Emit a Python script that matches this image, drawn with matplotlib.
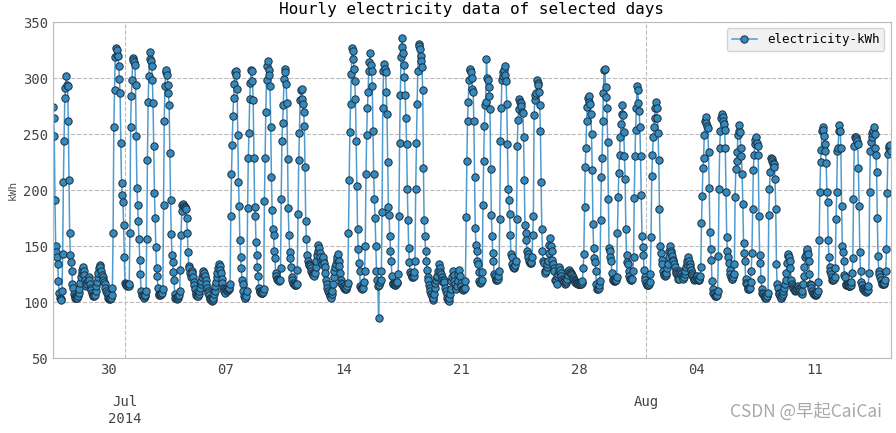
import numpy as np
import pandas as pd
import matplotlib
matplotlib.use("Agg")
import matplotlib.pyplot as plt

# hourly kWh, one line per day
jun26_29 = [
    274, 264, 248, 191, 150, 145, 140,  # Jun 26 (from 17:00)
    134, 119, 108, 104, 103, 102, 110, 143, 207, 244, 282, 291, 302, 294, 293, 262, 209, 162, 142, 136, 128, 116, 113, 107,
    105, 104, 104, 105, 104, 105, 108, 112, 117, 122, 126, 129, 131, 128, 124, 120, 117, 114, 116, 119, 122, 120, 116, 113,
    111, 108, 106, 105, 105, 106, 110, 114, 118, 122, 126, 130, 133, 131, 128, 124, 122, 120, 118, 116, 113, 110, 108, 106,
]
jun30_jul06 = [
    104, 103, 103, 104, 104, 106, 113, 162, 256, 289, 319, 327, 321, 325, 320, 311, 299, 287, 242, 206, 196, 189, 169, 140,
    117, 116, 115, 114, 115, 114, 116, 162, 256, 284, 298, 318, 316, 314, 312, 294, 248, 202, 187, 172, 156, 138, 125, 110,
    106, 105, 105, 104, 105, 106, 110, 156, 227, 279, 302, 317, 323, 315, 311, 298, 278, 239, 197, 175, 149, 130, 123, 113,
    107, 106, 106, 107, 107, 108, 112, 187, 262, 293, 305, 307, 303, 294, 287, 276, 233, 191, 161, 142, 136, 127, 120, 107,
    104, 104, 103, 104, 105, 106, 110, 129, 160, 181, 187, 188, 186, 185, 184, 183, 175, 162, 145, 132, 130, 126, 122, 128,
    126, 122, 118, 115, 112, 108, 106, 105, 105, 107, 110, 113, 116, 119, 122, 125, 128, 126, 123, 120, 116, 113, 110, 108,
    106, 104, 103, 102, 101, 102, 104, 107, 110, 114, 118, 122, 126, 130, 134, 132, 129, 126, 121, 117, 113, 112, 110, 108,
]
jul07_13 = [
    112, 111, 110, 111, 112, 113, 116, 177, 214, 240, 266, 282, 295, 305, 306, 303, 290, 249, 207, 186, 155, 140, 130, 120,
    116, 110, 105, 104, 104, 105, 110, 184, 229, 251, 281, 296, 307, 306, 297, 280, 229, 185, 177, 154, 142, 131, 123, 113,
    110, 109, 108, 108, 108, 109, 112, 190, 229, 270, 298, 311, 315, 307, 303, 293, 256, 212, 182, 165, 160, 146, 139, 126,
    123, 121, 120, 120, 119, 120, 130, 192, 244, 260, 276, 299, 308, 305, 295, 278, 228, 184, 160, 145, 139, 131, 122, 120,
    117, 116, 115, 115, 115, 116, 129, 179, 227, 251, 280, 289, 290, 281, 277, 270, 257, 221, 172, 156, 142, 137, 134, 133,
    132, 130, 128, 126, 125, 124, 123, 126, 131, 137, 142, 146, 151, 148, 144, 140, 137, 134, 138, 140, 135, 131, 126, 120,
    116, 113, 110, 108, 106, 105, 104, 107, 110, 116, 122, 128, 131, 134, 138, 140, 143, 137, 132, 126, 120, 117, 116, 114,
]
jul14_20 = [
    114, 113, 112, 112, 113, 114, 117, 162, 209, 252, 277, 304, 327, 324, 317, 308, 297, 281, 244, 204, 165, 147, 135, 128,
    114, 113, 113, 112, 113, 118, 128, 150, 214, 249, 273, 288, 306, 314, 322, 312, 306, 293, 253, 214, 192, 175, 150, 128,
    120, 114, 86, 115, 118, 120, 128, 180, 273, 306, 313, 308, 305, 288, 268, 225, 185, 178, 159, 146, 137, 123, 117, 116,
    116, 115, 115, 116, 117, 118, 125, 177, 242, 285, 319, 336, 328, 322, 312, 301, 285, 264, 241, 201, 173, 148, 136, 127,
    125, 123, 122, 122, 123, 127, 137, 201, 242, 277, 306, 330, 329, 326, 320, 315, 310, 289, 220, 173, 159, 146, 137, 129,
    122, 120, 115, 113, 110, 107, 105, 102, 104, 107, 113, 117, 120, 122, 123, 128, 134, 130, 127, 125, 122, 120, 118, 120,
    118, 113, 110, 107, 104, 102, 101, 104, 107, 112, 119, 122, 128, 124, 119, 116, 113, 112, 114, 119, 125, 129, 123, 117,
]
jul21_27 = [
    114, 112, 112, 111, 112, 113, 119, 176, 226, 262, 279, 298, 307, 308, 305, 300, 290, 288, 262, 212, 166, 151, 146, 137,
    134, 127, 119, 117, 118, 120, 127, 187, 226, 257, 276, 279, 317, 300, 298, 292, 284, 272, 219, 178, 159, 144, 137, 125,
    123, 121, 120, 120, 121, 123, 128, 174, 244, 273, 298, 302, 305, 307, 311, 303, 297, 277, 241, 201, 191, 179, 160, 143,
    140, 134, 131, 130, 131, 133, 137, 174, 239, 263, 272, 281, 279, 278, 275, 270, 269, 247, 209, 169, 162, 155, 146, 143,
    140, 137, 135, 135, 136, 140, 160, 177, 267, 280, 285, 287, 298, 296, 294, 288, 276, 253, 207, 165, 146, 137, 135, 128,
    126, 128, 131, 134, 137, 144, 151, 157, 150, 146, 138, 134, 130, 128, 120, 119, 116, 123, 125, 128, 131, 129, 126, 123,
    121, 120, 119, 118, 116, 117, 119, 121, 124, 128, 129, 127, 126, 125, 124, 122, 121, 120, 119, 118, 117, 117, 116, 116,
]
jul28_aug03 = [
    117, 116, 116, 116, 117, 119, 130, 143, 185, 221, 238, 262, 274, 282, 284, 279, 277, 268, 250, 218, 170, 148, 139, 136,
    128, 116, 112, 112, 113, 115, 119, 173, 212, 229, 262, 287, 307, 308, 292, 283, 273, 243, 192, 148, 146, 140, 137, 126,
    121, 120, 119, 119, 120, 120, 122, 162, 194, 215, 231, 247, 259, 268, 276, 267, 252, 230, 210, 165, 142, 136, 134, 128,
    123, 121, 120, 120, 121, 128, 140, 193, 230, 254, 273, 293, 289, 278, 271, 256, 230, 196, 159, 149, 142, 129, 122, 120,
    117, 115, 115, 115, 116, 118, 125, 158, 213, 231, 247, 256, 264, 273, 279, 273, 264, 251, 227, 183, 150, 144, 138, 134,
    128, 125, 124, 123, 124, 126, 130, 134, 140, 146, 150, 146, 144, 141, 138, 137, 134, 131, 128, 126, 125, 123, 121, 121,
    128, 126, 125, 123, 122, 121, 122, 125, 128, 131, 134, 137, 140, 137, 134, 131, 129, 126, 124, 122, 121, 120, 121, 122,
]
aug04_10 = [
    123, 121, 120, 120, 121, 123, 131, 171, 195, 220, 229, 249, 262, 265, 260, 257, 255, 234, 202, 163, 147, 138, 119, 112,
    108, 107, 105, 105, 105, 106, 110, 141, 201, 238, 253, 264, 268, 265, 262, 259, 254, 238, 198, 158, 146, 140, 135, 129,
    125, 122, 121, 121, 122, 125, 134, 194, 219, 226, 234, 249, 253, 258, 252, 238, 230, 214, 188, 153, 144, 137, 121, 117,
    116, 113, 112, 112, 113, 118, 128, 144, 183, 218, 231, 241, 245, 247, 242, 239, 231, 177, 142, 135, 121, 112, 108, 107,
    105, 105, 104, 104, 105, 105, 108, 178, 201, 216, 229, 228, 226, 224, 223, 221, 210, 183, 134, 116, 113, 108, 107, 105,
    104, 104, 105, 107, 110, 113, 116, 120, 126, 135, 141, 143, 140, 137, 130, 120, 116, 114, 113, 112, 110, 111, 112, 113,
    113, 114, 113, 112, 110, 108, 107, 110, 116, 123, 131, 140, 142, 146, 147, 143, 137, 125, 116, 115, 113, 110, 108, 107,
]
aug11_15 = [
    107, 106, 106, 107, 108, 110, 118, 155, 198, 225, 236, 253, 256, 254, 248, 241, 235, 224, 198, 189, 155, 140, 131, 128,
    125, 122, 120, 120, 121, 122, 130, 174, 198, 235, 238, 253, 258, 253, 238, 186, 150, 145, 137, 124, 122, 116, 115, 115,
    115, 114, 114, 114, 115, 118, 126, 139, 192, 239, 247, 247, 246, 244, 241, 220, 186, 145, 128, 118, 115, 113, 112, 111,
    110, 110, 109, 110, 111, 114, 126, 198, 235, 243, 247, 251, 253, 256, 250, 238, 231, 216, 175, 141, 128, 125, 122, 120,
    117, 116, 116, 116, 117, 120, 128, 147, 197, 232, 238, 239, 240, 235,  # Aug 15 (to 13:00)
]

values = (jun26_29 + jun30_jul06 + jul07_13 + jul14_20 + jul21_27
          + jul28_aug03 + aug04_10 + aug11_15)
idx = pd.date_range("2014-06-26 17:00", periods=len(values), freq="h")
s = pd.Series(values, index=idx, name="electricity-kWh")

plt.rcParams["font.family"] = "DejaVu Sans Mono"

fig, ax = plt.subplots(figsize=(8.96, 4.33), dpi=100)
fig.subplots_adjust(left=0.059, right=0.994, top=0.949, bottom=0.173)

s.plot(ax=ax, color="#4f9bcf", linewidth=1.1, marker="o", markersize=5.3,
       markerfacecolor="#348ABD", markeredgecolor="#1c2f40", markeredgewidth=0.7)

ax.set_ylim(50, 350)
ax.set_title("Hourly electricity data of selected days", fontsize=11.5)
ax.set_ylabel("kWh", fontsize=8, color="#555555")
ax.set_xlabel("")
ax.grid(True, linestyle="--", color="#bbbbbb", linewidth=0.8)
ax.tick_params(which="both", length=0, labelsize=10, colors="#444444")
for sp in ax.spines.values():
    sp.set_color("#bbbbbb")

leg = ax.legend(loc="upper right", fontsize=9, fancybox=True)
leg.get_frame().set_facecolor("#eeeeee")
leg.get_frame().set_edgecolor("#cccccc")

fig.text(0.984, 0.028, "CSDN @早起CaiCai", ha="right", va="bottom", fontsize=12.5,
         color="#a8a8a8", family=["Noto Sans CJK SC", "DejaVu Sans"])

fig.savefig("out.png", dpi=100)
